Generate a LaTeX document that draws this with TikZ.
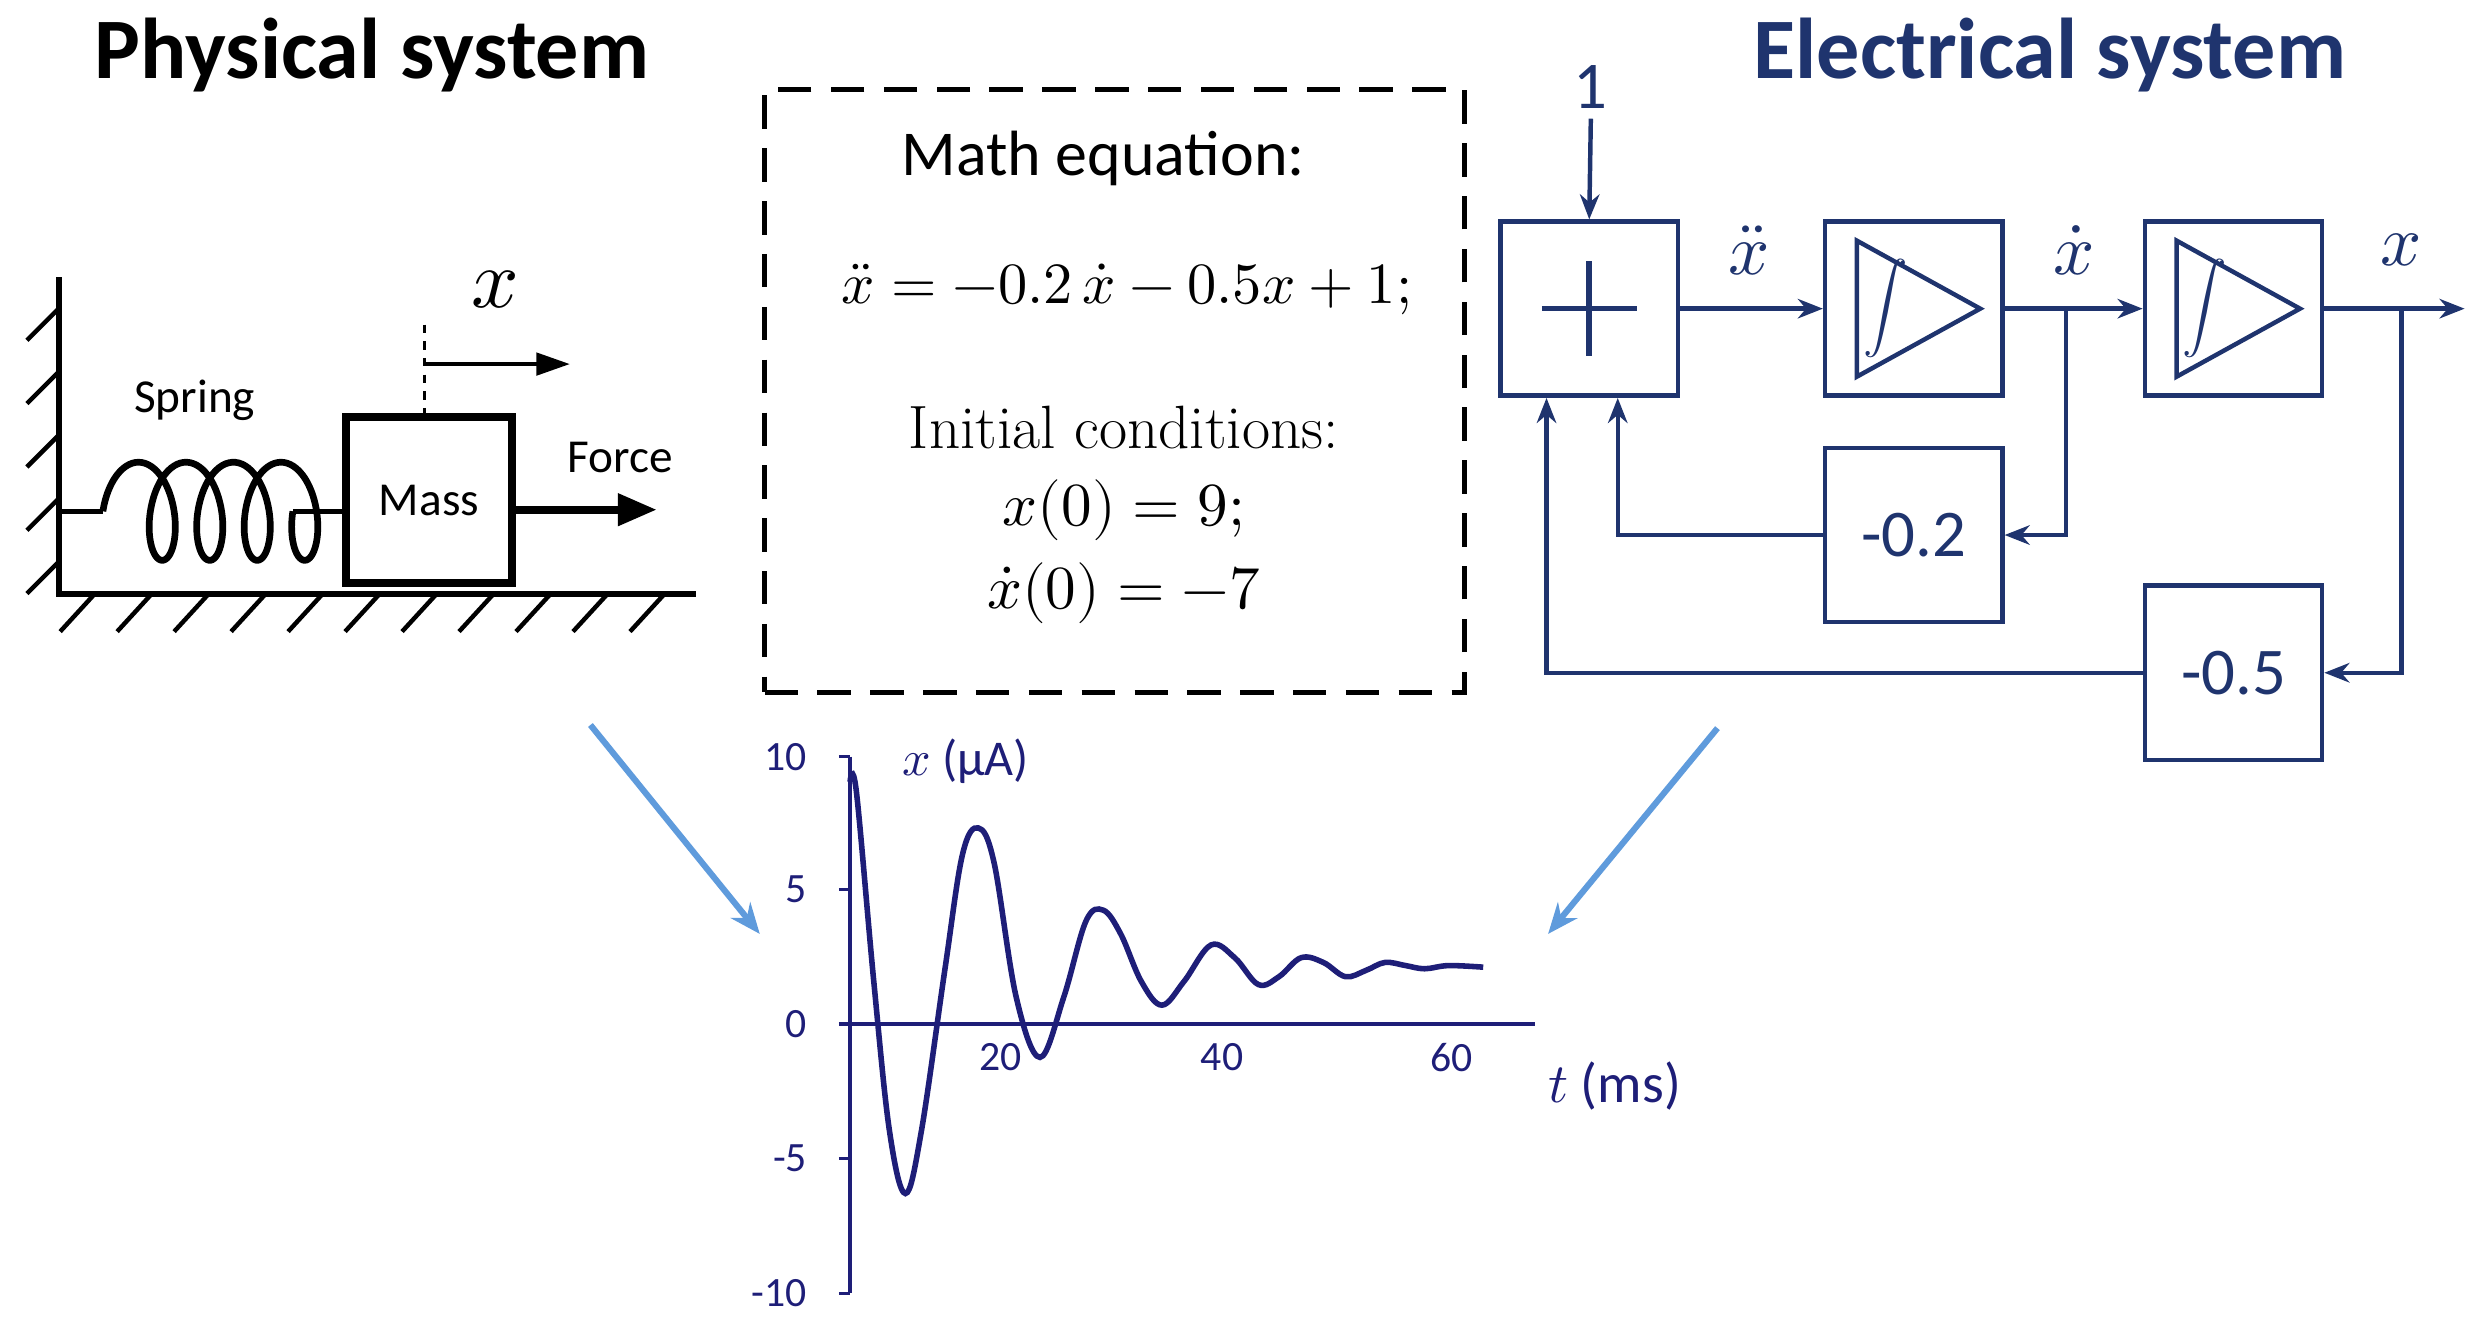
\documentclass[tikz,border=0pt]{standalone}
\usepackage{fontspec}
\usepackage{unicode-math}
\setmainfont{Carlito}
\setmathfont{Latin Modern Math}
\usetikzlibrary{arrows.meta}
\definecolor{eb}{RGB}{31,52,110}
\definecolor{pb}{RGB}{30,30,120}
\definecolor{lb}{RGB}{95,155,220}
\begin{document}
\begin{tikzpicture}[x=0.02cm,y=-0.02cm,
 blk/.style={draw=eb,line width=1.6pt},
 ea/.style={eb,line width=1.6pt,-{Stealth[length=9pt,width=7pt]}},
 lbl/.style={font=\fontsize{24}{26}\selectfont,text=eb},
 tick/.style={font=\fontsize{15}{17}\selectfont,text=pb}]
\useasboundingbox (0,0) rectangle (1568,832);
% titles
\node (t1) at (235,35) {\fontsize{31}{33}\selectfont\bfseries Physical system};
\node (t2) at (1295,35) {\fontsize{31}{33}\selectfont\bfseries\color{eb} Electrical system};
% wall and ground
\draw[line width=2.2pt] (37,175) -- (37,375) -- (440,375);
\foreach \y in {195,235,275,315,355} \draw[line width=1.6pt] (37,\y) -- (17,\y+20);
\foreach \x in {60,96,132,168,204,240,276,312,348,384,420} \draw[line width=1.6pt] (\x,375) -- (\x-22,399);
% spring
\coordinate (s0) at (37,323); \coordinate (s1) at (65,323); \coordinate (s2) at (185,323); \coordinate (s3) at (217,323);
\draw[line width=1.6pt] (s0) -- (s1);
\draw[line width=2.4pt,samples=240,domain=-90:1350,smooth] plot ({80+0.08334*(\x+90)+15*sin(\x)},{323-31*cos(\x)});
\draw[line width=1.6pt] (s2) -- (s3);
\node (spr) at (123,253) {\fontsize{17}{19}\selectfont Spring};
% mass
\node[draw,line width=3pt,minimum width=2.1cm,minimum height=2.1cm,font=\fontsize{17}{19}\selectfont] (mass) at (271,316) {Mass};
\coordinate (f1) at (415,322);
\draw[line width=3pt,-{Triangle[length=14pt,width=11pt]}] (mass.east |- f1) -- (f1);
\node (force) at (392,289) {\fontsize{17}{19}\selectfont Force};
\coordinate (d0) at (268,205); \coordinate (d1) at (268,230); \coordinate (d2) at (360,230);
\draw[dashed,line width=1pt] (d0) -- (mass.north -| d0);
\draw[line width=1.4pt,-{Triangle[length=12pt,width=8pt]}] (d1) -- (d2);
\node (xl) at (313,183) {\fontsize{30}{32}\selectfont$x$};
% math box
\node[draw,line width=1.8pt,dash pattern=on 12pt off 7pt,minimum width=8.84cm,minimum height=7.62cm] (mb) at (704,247) {};
\node (m1) at (697,100) {\fontsize{23}{25}\selectfont Math equation:};
\node (m2) at (712,183) {\fontsize{21}{23}\selectfont$\ddot x=-0.2\,\dot x-0.5x+1;$};
\node (m3) at (710,270) {\fontsize{22}{24}\selectfont\fontspec{Latin Modern Roman} Initial conditions:};
\node (m4) at (710,322) {\fontsize{22}{24}\selectfont$x(0)=9;$};
\node (m5) at (710,375) {\fontsize{22}{24}\selectfont$\dot x(0)=-7$};
% electrical
\node[blk,minimum width=2.24cm,minimum height=2.2cm] (sum) at (1004,195) {};
\draw[eb,line width=2pt] (974,195) -- (1034,195) (1004,165) -- (1004,225);
\node[blk,minimum width=2.24cm,minimum height=2.2cm] (i1) at (1209,195) {};
\node[blk,minimum width=2.24cm,minimum height=2.2cm] (i2) at (1411,195) {};
\foreach \c in {1209,1411}{
 \draw[eb,line width=1.6pt] (\c-36,152) -- (\c-36,238) -- (\c+42,195) -- cycle;
 \node[text=eb] at (\c-18,195) {\fontsize{16}{18}\selectfont$\displaystyle\int$};}
\node[blk,minimum width=2.24cm,minimum height=2.2cm,lbl] (g2) at (1209,338) {-0.2};
\node[blk,minimum width=2.24cm,minimum height=2.2cm,lbl] (g5) at (1411,425) {-0.5};
\node[lbl] (one) at (1005,55) {1};
\coordinate (o0) at (1005,75);
\draw[ea] (o0) -- (sum.north);
\draw[ea] (sum.east) -- (i1.west);
\draw[ea] (i1.east) -- (i2.west);
\coordinate (out) at (1557,195);
\draw[ea] (i2.east) -- (out);
\node[text=eb] (l1) at (1105,158) {\fontsize{26}{28}\selectfont$\ddot x$};
\node[text=eb] (l2) at (1310,158) {\fontsize{26}{28}\selectfont$\dot x$};
\node[text=eb] (l3) at (1517,158) {\fontsize{26}{28}\selectfont$x$};
\coordinate (b1) at (1305,195); \coordinate (b2) at (1517,195);
\coordinate (c1) at (1022,338); \coordinate (c2) at (977,425);
\draw[ea] (b1) |- (g2.east);
\draw[ea] (g2.west) -- (c1) -- (c1 |- sum.south);
\draw[ea] (b2) |- (g5.east);
\draw[ea] (g5.west) -- (c2) -- (c2 |- sum.south);
% light blue arrows
\coordinate (a1) at (373,458); \coordinate (a2) at (480,590);
\coordinate (a3) at (1085,460); \coordinate (a4) at (978,590);
\draw[lb,line width=2.2pt,-{Stealth[length=11pt,width=9pt]}] (a1) -- (a2);
\draw[lb,line width=2.2pt,-{Stealth[length=11pt,width=9pt]}] (a3) -- (a4);
% plot
\coordinate (yt) at (537,478); \coordinate (yb) at (537,817);
\coordinate (x0) at (537,647); \coordinate (xe) at (970,647);
\draw[pb,line width=1.6pt] (yt) -- (yb);
\draw[pb,line width=1.6pt] (x0) -- (xe);
\foreach \y/\l in {478/10,562/5,647/0,732/-5,817/-10}{
 \draw[pb,line width=1.2pt] (530,\y) -- (537,\y);
 \node[tick,anchor=east] at (516,\y) {\l};}
\foreach \x/\l in {632/20,772/40,917/60}
 \node[tick] at (\x,668) {\l};
\node[text=pb,font=\fontsize{18}{20}\selectfont] (xu) at (610,481) {$x$ (µA)};
\node[text=pb,font=\fontsize{20}{22}\selectfont] (tu) at (1020,686) {$t$ (ms)};
\draw[pb,line width=2pt] plot[smooth,tension=0.6] coordinates {
(537,494) (541,500) (552,620) (562,715) (572,754) (582,715) (597,612) (608,540) (618,523) (628,545)
(642,630) (657,668) (672,630) (686,582) (697,575) (708,590) (721,620) (734,635) (748,620)
(765,597) (780,605) (795,622) (808,617) (822,605) (836,608) (850,617) (863,613) (875,608) (888,610) (900,612) (915,610) (937,611)};
\end{tikzpicture}
\end{document}
